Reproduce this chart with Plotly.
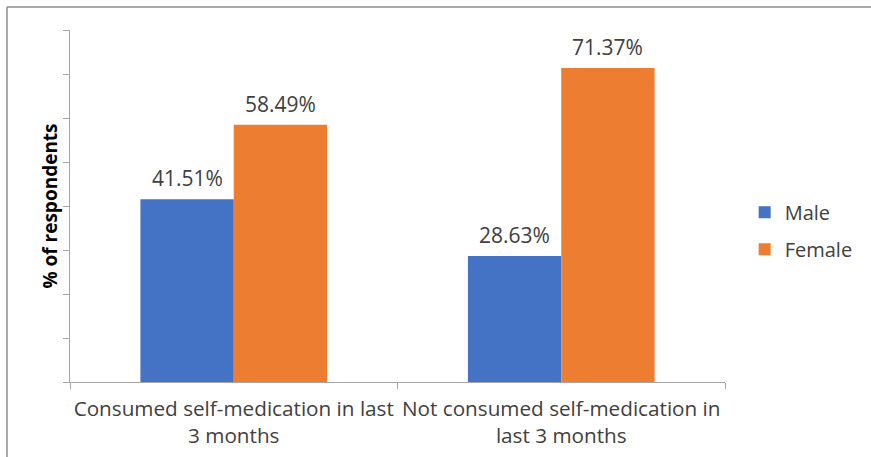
import plotly.graph_objects as go

categories = ["Consumed self-medication in last<br>3 months",
              "Not consumed self-medication in<br>last 3 months"]
male = [41.51, 28.63]
female = [58.49, 71.37]
y_ticks = [0, 10, 20, 30, 40, 50, 60, 70, 80]

FONT = "Open Sans"
TXT = "#404040"
W, H = 871, 457
ML, MR, MT, MB = 70, 146, 30, 75
BARGAP = 0.43

fig = go.Figure()
fig.add_trace(go.Bar(name="Male", x=categories, y=male, marker_color="#4472C4",
                     marker_line_width=0, legendgroup="m"))
fig.add_trace(go.Bar(name="Female", x=categories, y=female, marker_color="#ED7D31",
                     marker_line_width=0, legendgroup="f"))

# data labels above each bar, offset to the centre of each grouped bar
plot_w = W - ML - MR
cat_w = plot_w / len(categories)
bar_w = cat_w * (1 - BARGAP) / 2
annotations = []
for series, sign in ((male, -1), (female, 1)):
    for cat, val in zip(categories, series):
        annotations.append(dict(x=cat, y=val, xref="x", yref="y",
                                text=f"{val:.2f}%", showarrow=False,
                                xanchor="center", yanchor="bottom",
                                xshift=sign * bar_w / 2, yshift=5,
                                font=dict(size=21, color=TXT, family=FONT)))

fig.update_layout(
    width=W, height=H,
    margin=dict(l=ML, r=MR, t=MT, b=MB, autoexpand=False),
    paper_bgcolor="white", plot_bgcolor="white",
    barmode="group", bargap=BARGAP, bargroupgap=0,
    font=dict(family=FONT, size=21, color=TXT),
    showlegend=True,
    legend=dict(x=1.03, y=0.43, xanchor="left", yanchor="middle",
                font=dict(size=20, color=TXT, family=FONT),
                tracegroupgap=8, itemsizing="constant"),
    xaxis=dict(showline=True, linecolor="#A6A6A6", linewidth=1,
               ticks="outside", tickson="boundaries", ticklen=6, tickcolor="#A6A6A6",
               ticklabelstandoff=8, tickangle=0, automargin=False,
               tickfont=dict(size=20.7, color=TXT, family=FONT), showgrid=False),
    yaxis=dict(range=[0, 80], tickvals=y_ticks, showticklabels=False,
               showline=True, linecolor="#A6A6A6", linewidth=1,
               ticks="outside", ticklen=6, tickcolor="#A6A6A6", showgrid=False,
               zeroline=False, automargin=False,
               title=dict(text="<b>% of respondents</b>", standoff=0,
                          font=dict(size=19, color="black", family=FONT))),
    annotations=annotations,
    shapes=[
        dict(type="line", xref="paper", yref="paper", x0=-0.0962, x1=1.3,
             y0=1.0653, y1=1.0653, line=dict(color="#8C8C8C", width=1.5)),
        dict(type="line", xref="paper", yref="paper", x0=-0.0962, x1=-0.0962,
             y0=1.0653, y1=-0.25, line=dict(color="#8C8C8C", width=1.5)),
    ],
)

fig.write_html("out.html")
